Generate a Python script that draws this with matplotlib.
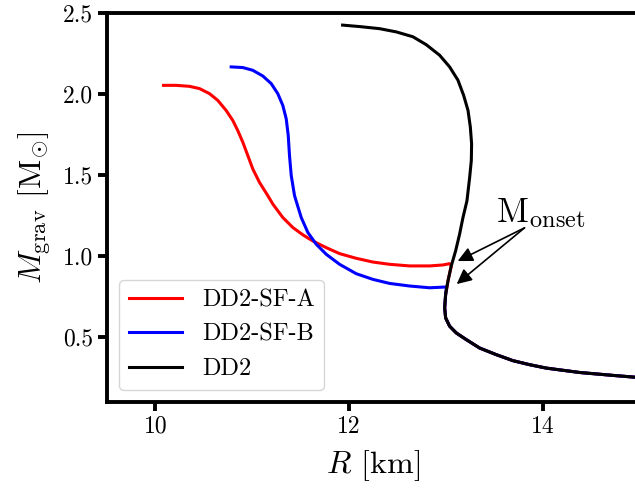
import numpy as np
import matplotlib
matplotlib.use("Agg")
import matplotlib.pyplot as plt

plt.rcParams['font.family'] = 'serif'
plt.rcParams['font.serif'] = ['cmr10']
plt.rcParams['mathtext.fontset'] = 'cm'
plt.rcParams['axes.formatter.use_mathtext'] = True

# DD2 (hadronic) mass-radius relation, from low mass to maximum mass
dd2_R = [15.00, 14.948, 14.724, 14.380, 14.036, 13.864, 13.691, 13.519, 13.347, 13.209,
         13.106, 13.037, 12.996, 12.986, 12.996, 13.020, 13.054, 13.099, 13.140, 13.175,
         13.216, 13.244, 13.261, 13.264, 13.251, 13.227, 13.182, 13.123, 13.037, 12.934,
         12.796, 12.658, 12.487, 12.314, 12.107, 11.932]
dd2_M = [0.245, 0.253, 0.264, 0.282, 0.309, 0.330, 0.355, 0.392, 0.433, 0.485,
         0.526, 0.568, 0.619, 0.681, 0.764, 0.847, 0.940, 1.033, 1.136, 1.239,
         1.342, 1.487, 1.591, 1.694, 1.797, 1.900, 1.993, 2.087, 2.169, 2.241,
         2.306, 2.355, 2.385, 2.405, 2.418, 2.427]

# Hybrid branch DD2-SF-A (after onset)
sfa_onset = 0.945
sfa_R = [13.037, 12.968, 12.831, 12.624, 12.417, 12.245, 12.073, 11.901, 11.763, 11.625,
         11.522, 11.419, 11.315, 11.212, 11.160, 11.074, 11.005, 10.954, 10.902, 10.850,
         10.799, 10.730, 10.644, 10.558, 10.455, 10.351, 10.214, 10.083]
sfa_M = [0.954, 0.946, 0.940, 0.940, 0.950, 0.964, 0.987, 1.016, 1.053, 1.094,
         1.132, 1.177, 1.239, 1.322, 1.374, 1.456, 1.539, 1.621, 1.704, 1.776,
         1.838, 1.900, 1.962, 2.004, 2.035, 2.049, 2.055, 2.055]

# Hybrid branch DD2-SF-B (after onset)
sfb_onset = 0.80
sfb_R = [13.005, 12.968, 12.831, 12.624, 12.417, 12.245, 12.073, 11.901, 11.763, 11.660,
         11.574, 11.505, 11.436, 11.402, 11.384, 11.371, 11.350, 11.315, 11.263,
         11.195, 11.108, 11.005, 10.902, 10.782]
sfb_M = [0.810, 0.809, 0.805, 0.816, 0.832, 0.857, 0.892, 0.950, 1.012, 1.074,
         1.146, 1.239, 1.374, 1.498, 1.622, 1.746, 1.849, 1.931, 2.004,
         2.066, 2.113, 2.148, 2.165, 2.169]

labels = ['DD2-SF-A', 'DD2-SF-B', 'DD2']
colors = ['#ff0000', '#0000ff', 'black']

xticks = [10, 12, 14]
yticks = [0.5, 1.0, 1.5, 2.0, 2.5]

onset_text_pos = (13.52, 1.21)
arrow_tail = (13.81, 1.175)
arrow_heads = [(13.12, 0.97), (13.11, 0.828)]

fig = plt.figure(figsize=(6.35, 4.92), dpi=100)
ax = fig.add_axes([0.1685, 0.183, 0.839, 0.790])

dR = np.array(dd2_R)
dM = np.array(dd2_M)

def hybrid(onset, hR, hM):
    m = np.arange(len(dM)) < np.argmax(dM > onset)
    return np.concatenate([dR[m], hR]), np.concatenate([dM[m], hM])

ra, ma = hybrid(sfa_onset, sfa_R, sfa_M)
rb, mb = hybrid(sfb_onset, sfb_R, sfb_M)

ax.plot(ra, ma, color=colors[0], lw=2.2, label=labels[0], zorder=2)
ax.plot(rb, mb, color=colors[1], lw=2.2, label=labels[1], zorder=3)
ax.plot(dR, dM, color=colors[2], lw=2.2, label=labels[2], zorder=4)

ax.set_xlim(9.5, 15)
ax.set_ylim(0.1, 2.5)
ax.set_xticks(xticks)
ax.set_yticks(yticks)
ax.set_xticklabels([str(t) for t in xticks])
ax.set_yticklabels(['%.1f' % t for t in yticks])

for s in ax.spines.values():
    s.set_linewidth(2.8)
ax.tick_params(width=2.8, length=6.5, labelsize=17, direction='out')

ax.set_xlabel(r'$R$ [km]', fontsize=23, labelpad=7)
ax.set_ylabel(r'$M_{\rm grav}$ [M$_{\odot}$]', fontsize=23, labelpad=7)

ax.text(onset_text_pos[0], onset_text_pos[1], r'M$_{\rm onset}$', fontsize=25,
        va='baseline', ha='left')
for h in arrow_heads:
    ax.annotate('', xy=h, xytext=arrow_tail,
                arrowprops=dict(arrowstyle='-|>,head_length=0.45,head_width=0.22',
                                color='black', lw=1.2, mutation_scale=20,
                                shrinkA=0, shrinkB=0), zorder=5)

ax.legend(loc='lower left', fontsize=17.5, handlelength=2.2)

fig.savefig('out.png', dpi=100)
